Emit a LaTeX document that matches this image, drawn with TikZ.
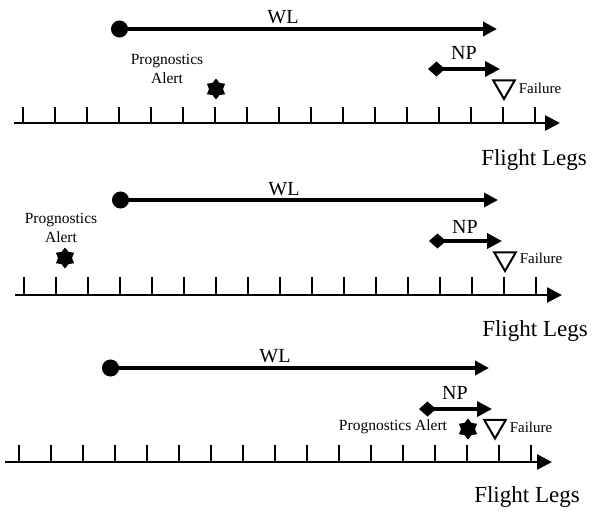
\documentclass[tikz,border=0pt]{standalone}
\usepackage{fontspec}
\setmainfont{Liberation Serif}
\usetikzlibrary{arrows.meta,shapes.geometric}
\begin{document}
\begin{tikzpicture}[x=1pt,y=-1pt,
  wlarrow/.style={line width=4pt,{Circle[length=17pt]}-{Triangle[length=14pt,width=14pt]}},
  nparrow/.style={line width=3.5pt,{Diamond[length=17pt,width=15pt]}-{Triangle[length=15pt,width=15pt]}},
  axisline/.style={line width=2.5pt,-{Triangle[length=15pt,width=15pt]}},
  tickmark/.style={line width=2pt},
  biglabel/.style={font=\fontsize{20}{22}\selectfont, inner sep=0pt},
  legslabel/.style={font=\fontsize{23}{25}\selectfont, inner sep=0pt},
  alertlabel/.style={font=\fontsize{15.5}{19}\selectfont, align=center, inner sep=0pt},
  faillabel/.style={font=\fontsize{15}{17}\selectfont, inner sep=0pt},
  alertstar/.style={star, star points=6, star point ratio=1.5, fill=black, minimum size=21pt, inner sep=0pt, outer sep=0pt},
  failmark/.style={regular polygon, regular polygon sides=3, shape border rotate=180, draw=black, line width=2pt, fill=white, minimum size=25pt, inner sep=0pt}
]
\useasboundingbox (0,0) rectangle (593,514);

% ---------- first timeline ----------
\coordinate (wl1s) at (111,29);
\coordinate (wl1e) at (497,29);
\draw[wlarrow] (wl1s) -- (wl1e);
\node[biglabel] (wl1) at (283,17) {WL};
\coordinate (np1s) at (428,69);
\coordinate (np1e) at (500,69);
\draw[nparrow] (np1s) -- (np1e);
\node[biglabel] (np1) at (464,53) {NP};
\node[alertlabel] (pa1) at (167,68.5) {Prognostics\\Alert};
\node[alertstar] (st1) at (216,89) {};
\node[failmark] (tr1) at (504,86.5) {};
\node[faillabel] (fl1) at (540,88) {Failure};
\foreach \i in {0,...,16} \draw[tickmark] (23+32*\i,107) -- (23+32*\i,123);
\coordinate (ax1s) at (14,123);
\coordinate (ax1e) at (560,123);
\draw[axisline] (ax1s) -- (ax1e);
\node[legslabel] (lg1) at (534,160) {Flight Legs};

% ---------- second timeline ----------
\coordinate (wl2s) at (112,200);
\coordinate (wl2e) at (498,200);
\draw[wlarrow] (wl2s) -- (wl2e);
\node[biglabel] (wl2) at (284,189) {WL};
\coordinate (np2s) at (429,241);
\coordinate (np2e) at (502,241);
\draw[nparrow] (np2s) -- (np2e);
\node[biglabel] (np2) at (465,227) {NP};
\node[alertlabel] (pa2) at (61,228) {Prognostics\\Alert};
\node[alertstar] (st2) at (65,258) {};
\node[failmark] (tr2) at (505,258.5) {};
\node[faillabel] (fl2) at (541,258) {Failure};
\foreach \i in {0,...,16} \draw[tickmark] (24+32*\i,277) -- (24+32*\i,295);
\coordinate (ax2s) at (15,295);
\coordinate (ax2e) at (562,295);
\draw[axisline] (ax2s) -- (ax2e);
\node[legslabel] (lg2) at (535,331) {Flight Legs};

% ---------- third timeline ----------
\coordinate (wl3s) at (102,368);
\coordinate (wl3e) at (489,368);
\draw[wlarrow] (wl3s) -- (wl3e);
\node[biglabel] (wl3) at (275,356) {WL};
\coordinate (np3s) at (419,409);
\coordinate (np3e) at (492,409);
\draw[nparrow] (np3s) -- (np3e);
\node[biglabel] (np3) at (455,393) {NP};
\node[alertlabel] (pa3) at (393,427) {Prognostics Alert};
\node[alertstar] (st3) at (468,429) {};
\node[failmark] (tr3) at (495,426) {};
\node[faillabel] (fl3) at (531,427) {Failure};
\foreach \i in {0,...,16} \draw[tickmark] (19+32*\i,445) -- (19+32*\i,462);
\coordinate (ax3s) at (5,462);
\coordinate (ax3e) at (552,462);
\draw[axisline] (ax3s) -- (ax3e);
\node[legslabel] (lg3) at (527,497) {Flight Legs};
\end{tikzpicture}
\end{document}
